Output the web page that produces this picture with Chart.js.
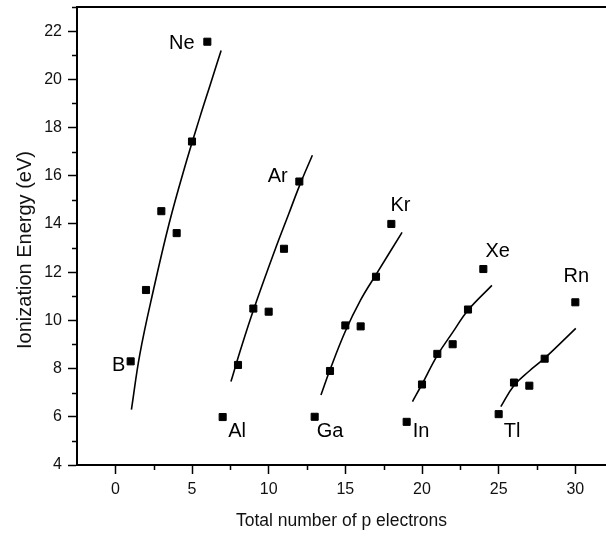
<!DOCTYPE html>
<html>
<head>
<meta charset="utf-8">
<script src="https://cdn.jsdelivr.net/npm/chart.js@4.4.1/dist/chart.umd.min.js"></script>
<style>
  html, body { margin: 0; padding: 0; background: #fff; }
  canvas { display: block; }
</style>
</head>
<body>
<canvas id="ieChart" width="606" height="536"></canvas>
<script>
// measured points: total p electrons vs first ionization energy (eV)
const pElectrons = [1, 2, 3, 4, 5, 6,
  7, 8, 9, 10, 11, 12,
  13, 14, 15, 16, 17, 18,
  19, 20, 21, 22, 23, 24,
  25, 26, 27, 28, 30];
const ionEnergy = [8.30, 11.26, 14.53, 13.62, 17.42, 21.56,
  5.99, 8.15, 10.49, 10.36, 12.97, 15.76,
  6.00, 7.90, 9.79, 9.75, 11.81, 14.00,
  5.79, 7.34, 8.61, 9.01, 10.45, 12.13,
  6.11, 7.42, 7.29, 8.41, 10.75];

// fitted curves, one per period
const fit2x = [1.05, 1.6, 2.5, 3.5, 4.5, 5.5, 6.2, 6.9];
const fit2y = [6.3, 8.6, 11.3, 14.0, 16.3, 18.4, 19.8, 21.2];
const fit3x = [7.54, 8.15, 9.02, 10.4, 11.3, 12.02, 12.85];
const fit3y = [7.46, 8.75, 10.45, 12.9, 14.4, 15.6, 16.85];
const fit4x = [13.41, 14.0, 15.0, 16.0, 17.0, 18.7];
const fit4y = [6.9, 7.95, 9.55, 10.85, 11.9, 13.65];
const fit5x = [19.38, 20.0, 21.0, 22.0, 23.0, 24.56];
const fit5y = [6.63, 7.35, 8.55, 9.5, 10.42, 11.45];
const fit6x = [25.14, 26.0, 27.0, 28.0, 30.03];
const fit6y = [6.42, 7.3, 7.9, 8.43, 9.67];

// element labels and the point each one belongs to
const labelNames = ["B", "Ne", "Al", "Ar", "Ga", "Kr", "In", "Xe", "Tl", "Rn"];
const labelIndex = [0, 5, 6, 11, 12, 17, 18, 23, 24, 28];

// axis ticks
const xTicks = [0, 5, 10, 15, 20, 25, 30];
const xMinor = [2.5, 7.5, 12.5, 17.5, 22.5, 27.5];
const yTicks = [4, 6, 8, 10, 12, 14, 16, 18, 20, 22];
const yMinor = [5, 7, 9, 11, 13, 15, 17, 19, 21, 23];

const FONT = '"Liberation Sans", Arial, sans-serif';
Chart.defaults.font.family = FONT;
Chart.defaults.color = "#111";

const toXY = (xs, ys) => xs.map((x, i) => ({ x: x, y: ys[i] }));

function fitSet(xs, ys) {
  return {
    data: toXY(xs, ys),
    showLine: true,
    borderColor: "#000",
    borderWidth: 1.6,
    pointRadius: 0,
    tension: 0.4,
    fill: false
  };
}

// pixel offsets from each point to its label centre
const labelOffsets = [
  [-12, 4], [-25.5, 1.7], [14.4, 14.5], [-21.6, -4.9], [15.3, 14.7],
  [9.2, -18], [14.3, 9.6], [14.3, -17.4], [13.5, 17.4], [1, -26]
];

// no extra room for edge labels, the frame is fixed
function noPad(s) {
  s.paddingLeft = 0;
  s.paddingRight = 0;
  s.paddingTop = 0;
  s.paddingBottom = 0;
}

const extras = {
  id: "extras",
  afterDraw(chart) {
    const ctx = chart.ctx;
    const area = chart.chartArea;
    const xs = chart.scales.x;
    const ys = chart.scales.y;
    ctx.save();
    ctx.strokeStyle = "#000";

    // top frame line
    ctx.lineWidth = 2;
    ctx.beginPath();
    ctx.moveTo(area.left - 1, area.top);
    ctx.lineTo(area.right, area.top);
    ctx.stroke();

    // minor ticks
    ctx.lineWidth = 1.5;
    ctx.beginPath();
    xMinor.forEach(v => {
      const px = Math.round(xs.getPixelForValue(v)) + 0.5;
      ctx.moveTo(px, area.bottom);
      ctx.lineTo(px, area.bottom + 5);
    });
    yMinor.forEach(v => {
      const py = Math.round(ys.getPixelForValue(v)) + 0.5;
      ctx.moveTo(area.left, py);
      ctx.lineTo(area.left - 5, py);
    });
    ctx.stroke();

    // element labels
    const meta = chart.getDatasetMeta(chart.data.datasets.length - 1);
    ctx.fillStyle = "#000";
    ctx.font = "20px " + FONT;
    ctx.textAlign = "center";
    ctx.textBaseline = "middle";
    labelNames.forEach((name, i) => {
      const pt = meta.data[labelIndex[i]];
      ctx.fillText(name, pt.x + labelOffsets[i][0], pt.y + labelOffsets[i][1]);
    });

    // y axis title
    ctx.fillStyle = "#111";
    ctx.font = "20px " + FONT;
    ctx.textBaseline = "alphabetic";
    ctx.translate(31, 250);
    ctx.rotate(-Math.PI / 2);
    ctx.fillText("Ionization Energy (eV)", 0, 0);
    ctx.restore();
  }
};

new Chart(document.getElementById("ieChart"), {
  type: "scatter",
  data: {
    datasets: [
      fitSet(fit2x, fit2y),
      fitSet(fit3x, fit3y),
      fitSet(fit4x, fit4y),
      fitSet(fit5x, fit5y),
      fitSet(fit6x, fit6y),
      {
        data: toXY(pElectrons, ionEnergy),
        pointStyle: "rect",
        pointRadius: 5,
        pointBorderWidth: 1,
        pointBackgroundColor: "#000",
        pointBorderColor: "#000",
        showLine: false
      }
    ]
  },
  options: {
    responsive: false,
    animation: false,
    layout: { autoPadding: false, padding: { top: 7, right: 0, bottom: 0, left: 0 } },
    plugins: {
      legend: { display: false },
      tooltip: { enabled: false }
    },
    scales: {
      x: {
        type: "linear",
        min: -2.5,
        max: 32,
        afterBuildTicks: s => { s.ticks = xTicks.map(v => ({ value: v })); },
        afterFit: s => { s.height = 71; noPad(s); },
        grid: { drawOnChartArea: false, tickLength: 9, color: "#000", tickWidth: 1.5 },
        border: { color: "#000", width: 2 },
        ticks: { font: { size: 16 }, color: "#111", padding: 6, maxRotation: 0 },
        title: {
          display: true,
          text: "Total number of p electrons",
          font: { size: 17.5 },
          color: "#111",
          padding: { top: 0, bottom: 4 }
        }
      },
      y: {
        min: 4,
        max: 23,
        afterBuildTicks: s => { s.ticks = yTicks.map(v => ({ value: v })); },
        afterFit: s => { s.width = 77; noPad(s); },
        grid: { drawOnChartArea: false, tickLength: 9, color: "#000", tickWidth: 1.5 },
        border: { color: "#000", width: 2 },
        ticks: { font: { size: 16 }, color: "#111", padding: 6 }
      }
    }
  },
  plugins: [extras]
});
</script>
</body>
</html>
